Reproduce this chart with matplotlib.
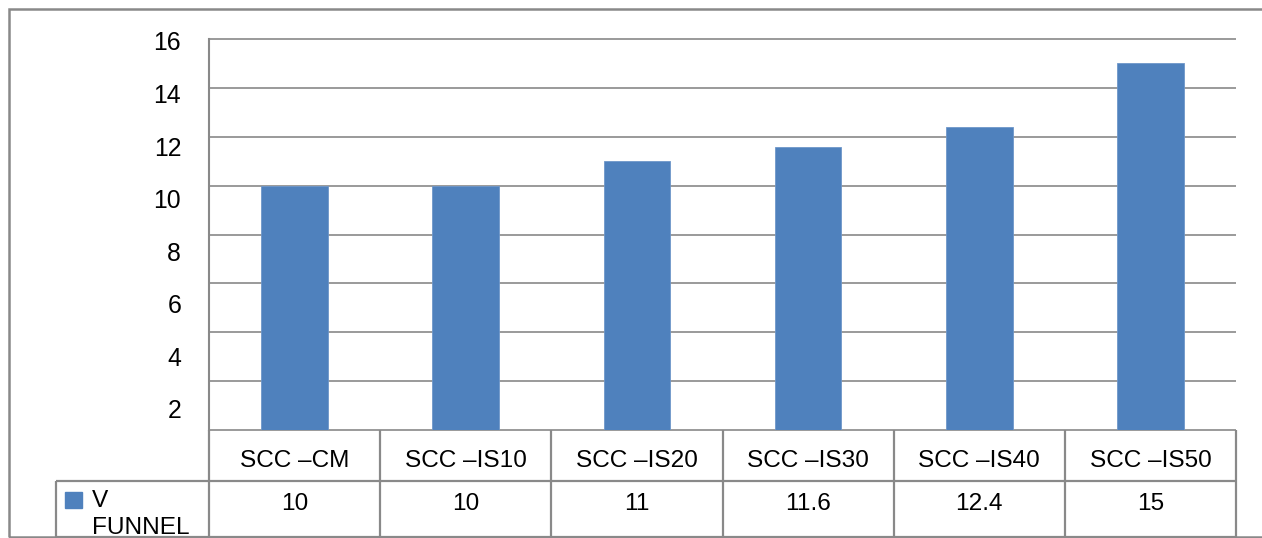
import matplotlib.pyplot as plt
from matplotlib.patches import Rectangle

# series data
categories = ['SCC –CM', 'SCC –IS10', 'SCC –IS20', 'SCC –IS30', 'SCC –IS40', 'SCC –IS50']
v_funnel = [10, 10, 11, 11.6, 12.4, 15]
series_name = 'V\nFUNNEL'
y_ticks = [2, 4, 6, 8, 10, 12, 14, 16]
grid_levels = [0, 2, 4, 6, 8, 10, 12, 14, 16]

bar_color = '#4F81BD'
line_color = '#898989'

plt.rcParams['font.family'] = ['Liberation Sans', 'DejaVu Sans']

W, H = 1262, 538
fig = plt.figure(figsize=(W / 100, H / 100), dpi=100)


def box(x0, y0, x1, y1):
    # pixel box (top-left origin) -> figure fraction rect
    return [x0 / W, 1 - y1 / H, (x1 - x0) / W, (y1 - y0) / H]


n = len(categories)
xs = list(range(n))

# plot area
ax = fig.add_axes(box(209, 39, 1236, 430))
ax.bar(xs, v_funnel, width=0.39, color=bar_color, edgecolor='#6f97c9',
       linewidth=0.6, zorder=3)
ax.hlines(grid_levels, -0.5, n - 0.5, color=line_color, linewidth=1.2,
          zorder=1, clip_on=False)
ax.set_xlim(-0.5, n - 0.5)
ax.set_ylim(0, 16)
ax.set_xticks([])
ax.set_yticks([])
for s in ['top', 'right', 'bottom', 'left']:
    ax.spines[s].set_visible(False)
ax.axvline(-0.5, color=line_color, linewidth=1.5, clip_on=False)

# value labels on the left run on their own slightly stretched scale
lab = ax.twinx()
lab.yaxis.set_ticks_position('left')
lab.set_ylim(1.19, 16.076)
lab.set_yticks(y_ticks)
lab.set_yticklabels([str(t) for t in y_ticks], fontsize=17.8)
lab.tick_params(axis='y', length=0, pad=20)
for s in ['top', 'right', 'bottom', 'left']:
    lab.spines[s].set_visible(False)

# data table under the bars (y in pixels from the top of the table)
tab = fig.add_axes(box(209, 430, 1236, 537))
tab.set_xlim(-0.5, n - 0.5)
tab.set_ylim(107, 0)
tab.axis('off')
col_w = 1027 / n
head_left = -0.5 - (209 - 56) / col_w

fs = 17.6
lw = 1.6
tab.hlines(51, head_left, n - 0.5, color=line_color, linewidth=lw, clip_on=False)
tab.hlines(107, head_left, n - 0.5, color=line_color, linewidth=lw, clip_on=False)
tab.vlines([i - 0.5 for i in range(n + 1)], 0, 107, color=line_color,
           linewidth=lw, clip_on=False)
tab.vlines(head_left, 51, 107, color=line_color, linewidth=lw, clip_on=False)

for i, (c, v) in enumerate(zip(categories, v_funnel)):
    tab.text(i, 31, c, ha='center', va='center', fontsize=fs)
    tab.text(i, 73.5, f'{v:g}', ha='center', va='center', fontsize=fs)

# legend key in the header cell
key_x = -0.5 - (209 - 65) / col_w
tab.add_patch(Rectangle((key_x, 62), 17 / col_w, 15.5, color=bar_color,
                        clip_on=False))
tab.text(-0.5 - (209 - 92) / col_w, 60, series_name, ha='left', va='top',
         fontsize=fs, linespacing=1.3, clip_on=False)

# chart frame
fig.add_artist(Rectangle((9 / W, 1 - 537 / H), 1270 / W, 528 / H,
                         transform=fig.transFigure, fill=False,
                         edgecolor=line_color, linewidth=1.8))

fig.savefig('out.png', dpi=100)
